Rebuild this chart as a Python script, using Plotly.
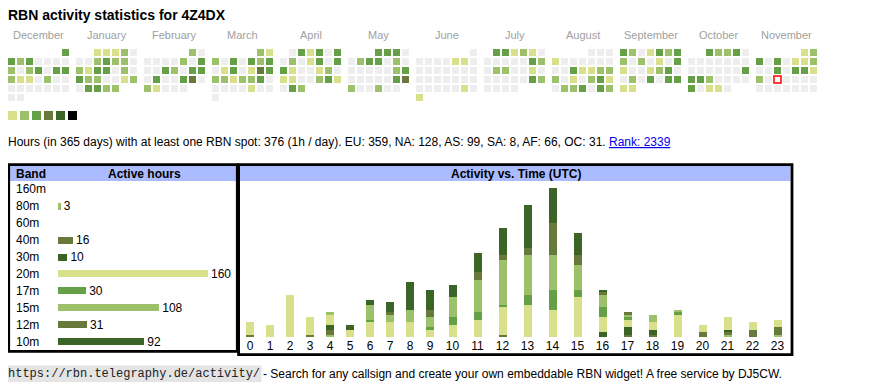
import calendar
import plotly.graph_objects as go

# ---------------- data ----------------
TITLE = "RBN activity statistics for 4Z4DX"
MONTH_NAMES = ["December", "January", "February", "March", "April", "May",
               "June", "July", "August", "September", "October", "November"]
MONTH_YEARS = [(2024, 12), (2025, 1), (2025, 2), (2025, 3), (2025, 4), (2025, 5),
               (2025, 6), (2025, 7), (2025, 8), (2025, 9), (2025, 10), (2025, 11)]

# activity level per day (0 = none ... 6 = max)
DEC = [3, 3, 2, 3, 0, 0, 0, 0, 2, 0, 2, 3, 0, 3, 3, 2, 1, 1, 0, 2, 0, 0, 0, 0, 0, 0, 0, 0, 0, 0, 0]
JAN = [1, 1, 1, 2, 0, 0, 0, 2, 3, 2, 2, 0, 2, 1, 3, 3, 0, 2, 0, 3, 2, 2, 0, 0, 1, 2, 0, 3, 3, 2, 2]
FEB = [2, 0, 0, 0, 0, 0, 2, 0, 3, 0, 0, 3, 2, 0, 3, 3, 0, 3, 0, 0, 3, 4, 0, 2, 1, 0, 0, 0]
MAR = [2, 1, 2, 0, 3, 0, 3, 2, 3, 0, 1, 3, 0, 1, 4, 3, 2, 2, 1, 2, 2, 3, 0, 0, 0, 0, 0, 1, 0, 0, 0]
APR = [0, 3, 1, 3, 0, 3, 0, 2, 0, 1, 3, 0, 3, 3, 1, 0, 0, 1, 2, 0, 1, 1, 0, 0, 2, 3, 1, 0, 3, 2]
MAY = [3, 3, 3, 0, 0, 2, 3, 3, 0, 2, 0, 0, 0, 0, 0, 0, 2, 3, 0, 0, 0, 0, 0, 3, 4, 2, 0, 0, 2, 0, 0]
JUN = [0, 0, 0, 0, 0, 1, 1, 0, 0, 0, 0, 0, 0, 0, 0, 0, 0, 0, 0, 0, 0, 0, 0, 0, 0, 0, 0, 1, 0, 1]
JUL = [3, 3, 1, 2, 1, 0, 0, 0, 0, 0, 0, 3, 2, 0, 2, 2, 0, 0, 1, 0, 0, 0, 0, 0, 0, 3, 2, 0, 0, 0, 0]
AUG = [0, 0, 0, 1, 0, 0, 0, 0, 0, 0, 0, 0, 3, 1, 1, 2, 2, 2, 0, 1, 0, 2, 3, 1, 0, 2, 2, 3, 0, 3, 2]
SEP = [3, 2, 0, 1, 3, 2, 3, 2, 0, 2, 0, 1, 0, 3, 1, 0, 0, 1, 2, 3, 0, 0, 2, 0, 3, 0, 3, 3, 1, 1]
OCT = [3, 2, 2, 3, 0, 0, 0, 0, 0, 0, 0, 0, 0, 0, 0, 0, 0, 0, 3, 3, 3, 2, 0, 0, 0, 0, 3, 0, 1, 1, 0]
NOV = [1, 2, 3, 0, 3, 0, 1, 1, 2, 0, 0, 3, 0, 3, 3, 1, 2, 0, 0, 0, 0, 0, 0, 0, 0, 0, 0, 0, 0, 0]
DAY_LEVELS = [DEC, JAN, FEB, MAR, APR, MAY, JUN, JUL, AUG, SEP, OCT, NOV]
TODAY = (2025, 11, 19)

LEVEL_COLORS = ["#eeeeee", "#d9e08b", "#9dc06b", "#66a046", "#687a3b", "#3b6526", "#000000"]
LEGEND_LEVELS = [1, 2, 3, 4, 5, 6]

TOTAL_HOURS = 376
DAYS = 365
PER_DAY = "1h / day"
CONTINENTS = ["EU", "NA", "AS", "SA", "AF", "OC"]
CONT_HOURS = [359, 128, 99, 8, 66, 31]
RANK = 2339

BANDS = ["160m", "80m", "60m", "40m", "30m", "20m", "17m", "15m", "12m", "10m"]
BAND_HOURS = [None, 3, None, 16, 10, 160, 30, 108, 31, 92]
BAND_COLORS = ["#d9e08b", "#9dc06b", "#66a046", "#687a3b", "#3b6526",
               "#d9e08b", "#66a046", "#9dc06b", "#687a3b", "#3b6526"]

HOURS = [str(h) for h in range(24)]
ACT_160 = [0] * 24
ACT_80 = [0, 0, 0, 0, 1, 0, 0, 0, 0, 0, 0, 0, 0, 0, 0, 0, 0, 0, 0, 0, 0, 1, 0, 1]
ACT_60 = [0] * 24
ACT_40 = [1, 0, 0, 1, 2, 0, 0, 0, 0, 0, 0, 0, 1, 0, 0, 0, 0, 1, 1, 0, 2, 1, 3, 3]
ACT_30 = [0, 0, 0, 0, 2, 0, 0, 0, 0, 0, 0, 0, 0, 0, 0, 0, 2, 3, 2, 0, 0, 1, 0, 0]
ACT_20 = [5, 5, 17, 7, 4, 3, 6, 6, 6, 3, 5, 7, 11, 13, 11, 16, 6, 3, 3, 9, 3, 5, 3, 3]
ACT_17 = [0, 0, 0, 0, 0, 0, 1, 0, 0, 1, 3, 3, 1, 4, 8, 3, 4, 1, 0, 1, 0, 0, 0, 0]
ACT_15 = [0, 0, 0, 0, 1, 0, 6, 3, 5, 4, 8, 13, 18, 16, 14, 10, 5, 1, 3, 1, 0, 0, 0, 0]
ACT_12 = [0, 0, 0, 0, 0, 0, 0, 1, 0, 3, 0, 3, 2, 3, 13, 4, 1, 1, 0, 0, 0, 0, 0, 0]
ACT_10 = [0, 0, 0, 0, 0, 2, 2, 4, 11, 8, 5, 8, 11, 17, 14, 9, 1, 0, 0, 0, 0, 0, 0, 0]
ACTIVITY = [ACT_160, ACT_80, ACT_60, ACT_40, ACT_30, ACT_20, ACT_17, ACT_15, ACT_12, ACT_10]

FOOT_URL = "https://rbn.telegraphy.de/activity/"
FOOT_TEXT = "- Search for any callsign and create your own embeddable RBN widget! A free service by DJ5CW."

# ---------------- geometry helpers ----------------
FONT = "Liberation Sans, Arial, sans-serif"
OFF = 8
FIG_W, FIG_H = 870 - 2 * OFF, 390 - 2 * OFF
PAD = 2  # annotation inner padding


def px(X):
    return (X - OFF) / FIG_W


def py(Y):
    return 1 - (Y - OFF) / FIG_H


CELL = 9.0          # day pitch (px)
MONTH_PITCH = 68.0  # month block pitch (px)
X0, Y0 = 11.5, 52.5  # centre of first cell (page px)

fig = go.Figure()

# ---------------- calendar heatmap ----------------
cx, cy, cc = [], [], []
for mi, (yr, mo) in enumerate(MONTH_YEARS):
    start, ndays = calendar.monthrange(yr, mo)
    for d, lvl in enumerate(DAY_LEVELS[mi][:ndays]):
        idx = start + d
        cx.append(mi * MONTH_PITCH / CELL + idx % 7)
        cy.append(idx // 7)
        cc.append(LEVEL_COLORS[lvl])
fig.add_trace(go.Scatter(x=cx, y=cy, mode="markers", hoverinfo="skip",
                         marker=dict(symbol="square", size=7, color=cc, line=dict(width=0)),
                         xaxis="x", yaxis="y"))

# today marker
ti = MONTH_YEARS.index((TODAY[0], TODAY[1]))
ts = calendar.monthrange(TODAY[0], TODAY[1])[0] + TODAY[2] - 1
fig.add_trace(go.Scatter(x=[ti * MONTH_PITCH / CELL + ts % 7], y=[ts // 7], mode="markers",
                         hoverinfo="skip",
                         marker=dict(symbol="square", size=7, color="white",
                                     line=dict(width=1.5, color="#ff0000")),
                         xaxis="x", yaxis="y"))

# level legend
fig.add_trace(go.Scatter(x=[(12.5 + 12 * k - X0) / CELL for k in range(len(LEGEND_LEVELS))],
                         y=[(115.5 - Y0) / CELL] * len(LEGEND_LEVELS), mode="markers",
                         hoverinfo="skip",
                         marker=dict(symbol="square", size=9,
                                     color=[LEVEL_COLORS[l] for l in LEGEND_LEVELS],
                                     line=dict(width=0)),
                         xaxis="x", yaxis="y"))

annotations = []
for mi, name in enumerate(MONTH_NAMES):
    annotations.append(dict(x=mi * MONTH_PITCH / CELL + 3, y=(35 - Y0) / CELL, xref="x", yref="y",
                            text=name, showarrow=False, xanchor="center", yanchor="middle",
                            font=dict(size=11, color="#a0a0a0", family=FONT)))

# ---------------- band table ----------------
fig.add_trace(go.Bar(x=BAND_HOURS, y=BANDS, orientation="h", width=0.41,
                     marker=dict(color=BAND_COLORS, line=dict(width=0)),
                     text=[str(v) if v else "" for v in BAND_HOURS],
                     textposition="outside", constraintext="none", cliponaxis=False,
                     textfont=dict(size=12, color="black", family=FONT),
                     hoverinfo="skip", xaxis="x2", yaxis="y2"))
for b in BANDS:
    annotations.append(dict(x=px(16 - PAD), y=b, xref="paper", yref="y2", text=b, showarrow=False,
                            xanchor="left", yanchor="middle", font=dict(size=12, color="black")))

# ---------------- activity vs time ----------------
widths = [15 + 5 * len(h) for h in HOURS]
centers = []
acc = 0
for w in widths:
    centers.append(acc + w / 2)
    acc += w
for band, vals, col in zip(BANDS, ACTIVITY, BAND_COLORS):
    fig.add_trace(go.Bar(x=centers, y=vals, width=8, name=band,
                         marker=dict(color=col, line=dict(width=0)),
                         hoverinfo="skip", xaxis="x3", yaxis="y3"))

# ---------------- texts ----------------
annotations.append(dict(x=px(8 - PAD), y=py(15), xref="paper", yref="paper",
                        text="<b>" + TITLE + "</b>",
                        showarrow=False, xanchor="left", yanchor="middle",
                        font=dict(size=14, color="black")))
cont = ", ".join(f"{c}: {v}" for c, v in zip(CONTINENTS, CONT_HOURS))
info = (f"Hours (in {DAYS} days) with at least one RBN spot: {TOTAL_HOURS} ({PER_DAY}). {cont}. "
        f"<span style='color:#0000ee'><u>Rank: {RANK}</u></span>")
annotations.append(dict(x=px(8 - PAD), y=py(142), xref="paper", yref="paper", text=info,
                        showarrow=False, xanchor="left", yanchor="middle",
                        font=dict(size=12, color="black")))
annotations.append(dict(x=px(6), y=py(374), xref="paper", yref="paper", text=FOOT_URL,
                        showarrow=False, xanchor="left", yanchor="middle", bgcolor="#e4e4e4",
                        borderpad=1, font=dict(size=12, color="#222222",
                                               family="Liberation Mono, monospace")))
annotations.append(dict(x=px(263 - PAD), y=py(374), xref="paper", yref="paper", text=FOOT_TEXT,
                        showarrow=False, xanchor="left", yanchor="middle",
                        font=dict(size=12, color="black")))
# table headers
annotations.append(dict(x=px(16 - PAD), y=py(173.5), xref="paper", yref="paper", text="<b>Band</b>",
                        showarrow=False, xanchor="left", yanchor="middle", font=dict(size=12)))
annotations.append(dict(x=px(144.5), y=py(173.5), xref="paper", yref="paper",
                        text="<b>Active hours</b>",
                        showarrow=False, xanchor="center", yanchor="middle", font=dict(size=12)))
annotations.append(dict(x=px(516), y=py(173.5), xref="paper", yref="paper",
                        text="<b>Activity vs. Time (UTC)</b>",
                        showarrow=False, xanchor="center", yanchor="middle", font=dict(size=12)))

HEADER_BLUE = "#aabbff"
shapes = [
    dict(type="rect", xref="paper", yref="paper", x0=px(10), x1=px(236), y0=py(181), y1=py(166),
         fillcolor=HEADER_BLUE, line=dict(width=0), layer="below"),
    dict(type="rect", xref="paper", yref="paper", x0=px(239.5), x1=px(790.5), y0=py(181), y1=py(166),
         fillcolor=HEADER_BLUE, line=dict(width=0), layer="below"),
    dict(type="rect", xref="paper", yref="paper", x0=px(8.7), x1=px(237.3), y0=py(351.3), y1=py(164.7),
         line=dict(width=2.8, color="black")),
    dict(type="rect", xref="paper", yref="paper", x0=px(238.6), x1=px(792), y0=py(354.7), y1=py(164.7),
         line=dict(width=2.8, color="black")),
]

hidden = dict(showgrid=False, zeroline=False, showticklabels=False, showline=False, ticks="",
              fixedrange=True)
fig.update_layout(
    width=FIG_W, height=FIG_H, margin=dict(l=0, r=0, t=0, b=0),
    paper_bgcolor="white", plot_bgcolor="rgba(0,0,0,0)", showlegend=False,
    barmode="stack", font=dict(family=FONT, size=12, color="black"),
    xaxis=dict(domain=[0, 1], range=[(OFF - X0) / CELL, (OFF + FIG_W - X0) / CELL], **hidden),
    yaxis=dict(domain=[0, 1], range=[(OFF + FIG_H - Y0) / CELL, (OFF - Y0) / CELL], **hidden),
    xaxis2=dict(domain=[px(58), px(238)], range=[0, 180 / 0.9375], anchor="y2", **hidden),
    yaxis2=dict(domain=[py(350.5), py(180.5)], type="category", categoryarray=BANDS,
                categoryorder="array", autorange="reversed", anchor="x2", **hidden),
    xaxis3=dict(domain=[px(240), px(790)], range=[0, 550], anchor="y3",
                showgrid=False, zeroline=False, showline=False, ticks="", fixedrange=True,
                tickmode="array", tickvals=centers, ticktext=HOURS,
                tickfont=dict(size=12, color="black")),
    yaxis3=dict(domain=[py(337), py(182)], range=[0, 155 / 2.483], anchor="x3", **hidden),
    annotations=annotations, shapes=shapes,
)

fig.write_html("out.html")
